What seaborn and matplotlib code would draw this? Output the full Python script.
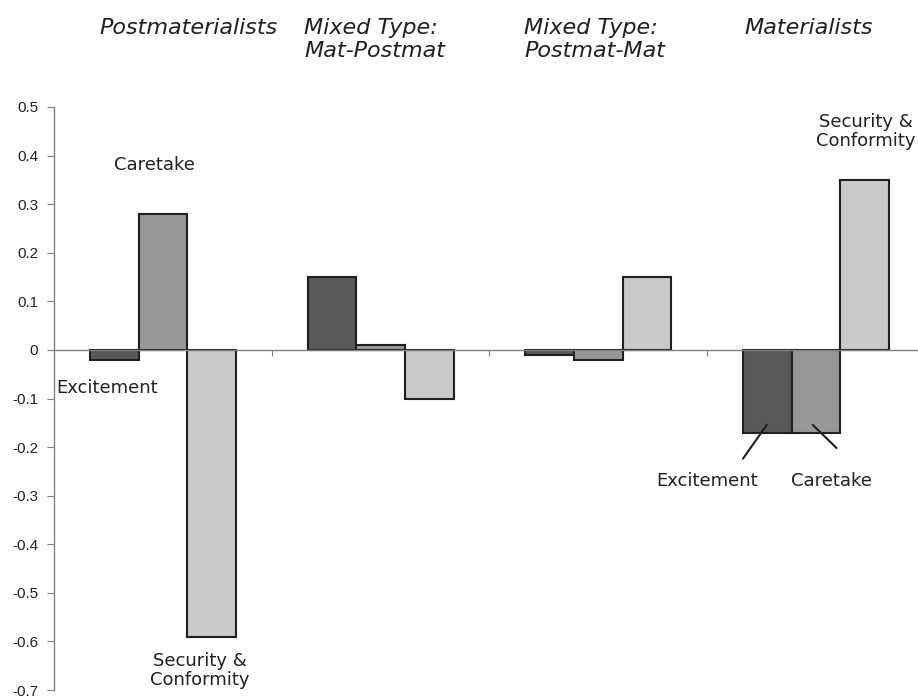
import pandas as pd
import matplotlib
matplotlib.use("Agg")
import matplotlib.pyplot as plt
import matplotlib.transforms as mtransforms
import seaborn as sns

groups = ["Postmaterialists", "Mixed Type:\nMat-Postmat", "Mixed Type:\nPostmat-Mat", "Materialists"]
series = ["Excitement", "Caretake", "Security & Conformity"]
excitement = [-0.02, 0.15, -0.01, -0.17]
caretake = [0.28, 0.01, -0.02, -0.17]
security = [-0.59, -0.10, 0.15, 0.35]
yticks = [0.5, 0.4, 0.3, 0.2, 0.1, 0, -0.1, -0.2, -0.3, -0.4, -0.5, -0.6, -0.7]
ytick_labels = ["0.5", "0.4", "0.3", "0.2", "0.1", "0", "-0.1", "-0.2", "-0.3", "-0.4", "-0.5", "-0.6", "-0.7"]

rows = []
for name, vals in zip(series, [excitement, caretake, security]):
    for g, v in zip(groups, vals):
        rows.append({"group": g, "series": name, "value": v})
df = pd.DataFrame(rows)

sns.set_style("white")
fig = plt.figure(figsize=(9.18, 6.98), dpi=100)
ax = fig.add_axes([54 / 918, 8 / 698, 864 / 918, 583 / 698])

sns.barplot(data=df, x="group", y="value", hue="series", order=groups, hue_order=series,
            palette=["#58595b", "#97989a", "#c8c9cb"], width=0.67,
            edgecolor="#231f20", linewidth=1.5, legend=False, ax=ax)

ax.set_xlim(-0.5, 3.5 - 7 / 219)
ax.set_ylim(-0.7, 0.5)
ax.set_xlabel("")
ax.set_ylabel("")

for s in ["top", "right"]:
    ax.spines[s].set_visible(False)
ax.spines["left"].set_color("#808080")
ax.spines["bottom"].set_color("#808080")
ax.spines["bottom"].set_position(("data", 0))
ax.spines["left"].set_linewidth(1)
ax.spines["bottom"].set_linewidth(1)

ax.set_yticks(yticks)
ax.set_yticklabels(ytick_labels, fontsize=11, family="Liberation Sans", color="#231f20")
ax.set_xticks([0.5, 1.5, 2.5])
ax.set_xticklabels([])
ax.tick_params(axis="y", direction="out", length=5, color="#808080", pad=6.5, left=True)
ax.tick_params(axis="x", direction="out", length=4, color="#808080", bottom=True)

# group headings above the plot
head = mtransforms.blended_transform_factory(ax.transData, fig.transFigure)
head_shift = [-0.29, -0.35, -0.34, -0.33]
for i, g in enumerate(groups):
    ax.text(i + head_shift[i], 1 - 18 / 698, g, transform=head, ha="left", va="top",
            fontsize=16, style="italic", family="DejaVu Sans", color="#231f20",
            linespacing=1.2)

lab = dict(fontsize=13, family="DejaVu Sans", color="#231f20", ha="center", va="center",
           annotation_clip=False)
ax.annotate("Caretake", xy=(-0.04, 0.38), **lab)
ax.annotate("Excitement", xy=(-0.258, -0.078), **lab)
ax.annotate("Security &\nConformity", xy=(0.17, -0.66), linespacing=1.1, **lab)
ax.annotate("Security &\nConformity", xy=(3.23, 0.449), linespacing=1.1, **lab)
ax.annotate("Excitement", xy=(2.5, -0.27), **lab)
ax.annotate("Caretake", xy=(3.07, -0.27), **lab)
ax.plot([2.774, 2.664], [-0.154, -0.224], color="#231f20", lw=1.5)
ax.plot([2.984, 3.094], [-0.154, -0.202], color="#231f20", lw=1.5)

fig.savefig("out.png", dpi=100)
